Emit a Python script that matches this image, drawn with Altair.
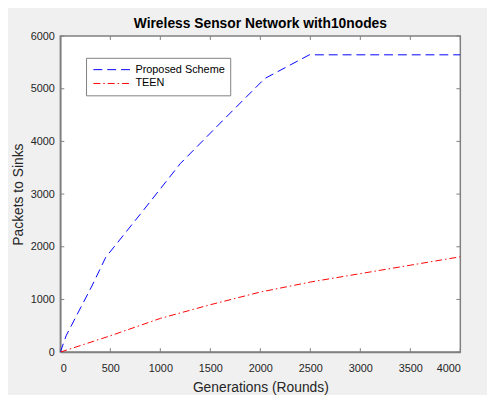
import altair as alt
import pandas as pd

# ---- data ----
rounds_proposed = [0, 60, 316, 454, 800, 1200, 1620, 2044, 2490, 4000]
packets_proposed = [0, 320, 1256, 1800, 2620, 3580, 4388, 5194, 5644, 5644]
rounds_teen = [0, 500, 1000, 1500, 2000, 2500, 3000, 3500, 4000]
packets_teen = [0, 310, 640, 900, 1140, 1330, 1490, 1650, 1810]
series_names = ["Proposed Scheme", "TEEN"]
x_ticks = [0, 500, 1000, 1500, 2000, 2500, 3000, 3500, 4000]
y_ticks = [0, 1000, 2000, 3000, 4000, 5000, 6000]

rows = []
for i, (x, y) in enumerate(zip(rounds_proposed, packets_proposed)):
    rows.append({"series": series_names[0], "rounds": x, "packets": y, "order": i})
for i, (x, y) in enumerate(zip(rounds_teen, packets_teen)):
    rows.append({"series": series_names[1], "rounds": x, "packets": y, "order": i})
df = pd.DataFrame(rows)
xt = pd.DataFrame({"v": x_ticks})
yt = pd.DataFrame({"v": y_ticks})

W, H = 405, 320
FRAME = "#808080"
FONT = "Liberation Sans"

xscale = alt.Scale(domain=[0, 4000], nice=False, zero=False)
yscale = alt.Scale(domain=[0, 6000], nice=False, zero=False)

lines = alt.Chart(df).mark_line(strokeWidth=1, clip=True).encode(
    x=alt.X("rounds:Q", scale=xscale,
            axis=alt.Axis(values=x_ticks, format="d", title="Generations (Rounds)", grid=False,
                          ticks=False, tickSize=0, labelPadding=11, titlePadding=7,
                          domainColor=FRAME, domainWidth=1.5)),
    y=alt.Y("packets:Q", scale=yscale,
            axis=alt.Axis(values=y_ticks, format="d", title="Packets to Sinks", grid=False,
                          ticks=False, tickSize=0, labelPadding=6, titlePadding=5,
                          domainColor=FRAME, domainWidth=1.5)),
    color=alt.Color("series:N",
                    scale=alt.Scale(domain=series_names, range=["#0000ff", "#ff0000"]),
                    legend=alt.Legend(title=None, orient="none", legendX=26, legendY=22,
                                      symbolType="stroke", symbolSize=1444,
                                      symbolStrokeWidth=1, clipHeight=14, rowPadding=0,
                                      symbolOffset=2,
                                      labelFontSize=11, labelFont=FONT, labelColor="#000000",
                                      labelOffset=4, padding=5,
                                      strokeColor="#808080", fillColor="#ffffff")),
    strokeDash=alt.StrokeDash("series:N",
                              scale=alt.Scale(domain=series_names,
                                              range=[[9, 5], [7, 3, 1.5, 3]]),
                              legend=None),
    order="order:Q",
)

tick_len = 4
xb = alt.Chart(xt).mark_rule(color=FRAME, strokeWidth=1).encode(
    x=alt.X("v:Q", scale=xscale), y=alt.value(H), y2=alt.value(H - tick_len))
xtop = alt.Chart(xt).mark_rule(color=FRAME, strokeWidth=1).encode(
    x=alt.X("v:Q", scale=xscale), y=alt.value(0), y2=alt.value(tick_len))
yl = alt.Chart(yt).mark_rule(color=FRAME, strokeWidth=1).encode(
    y=alt.Y("v:Q", scale=yscale), x=alt.value(0), x2=alt.value(tick_len))
yr = alt.Chart(yt).mark_rule(color=FRAME, strokeWidth=1).encode(
    y=alt.Y("v:Q", scale=yscale), x=alt.value(W), x2=alt.value(W - tick_len))

chart = alt.layer(xb, xtop, yl, yr, lines).properties(
    width=W, height=H,
    title=alt.TitleParams("Wireless Sensor Network with10nodes", fontSize=14,
                          font=FONT, fontWeight="bold", color="#000000",
                          anchor="middle", offset=3, dy=4),
    autosize=alt.AutoSizeParams(type="none"),
    padding={"left": 53, "top": 26, "right": 27, "bottom": 41},
).configure(background="#f0f0f0").configure_view(
    fill="#ffffff", stroke=FRAME, strokeWidth=1.5
).configure_axis(
    labelFont=FONT, titleFont=FONT, labelFontSize=11, titleFontSize=14,
    labelColor="#262626", titleColor="#262626", titleFontWeight="normal"
)

chart.save("out.html", embed_options={"renderer": "svg", "actions": False})
